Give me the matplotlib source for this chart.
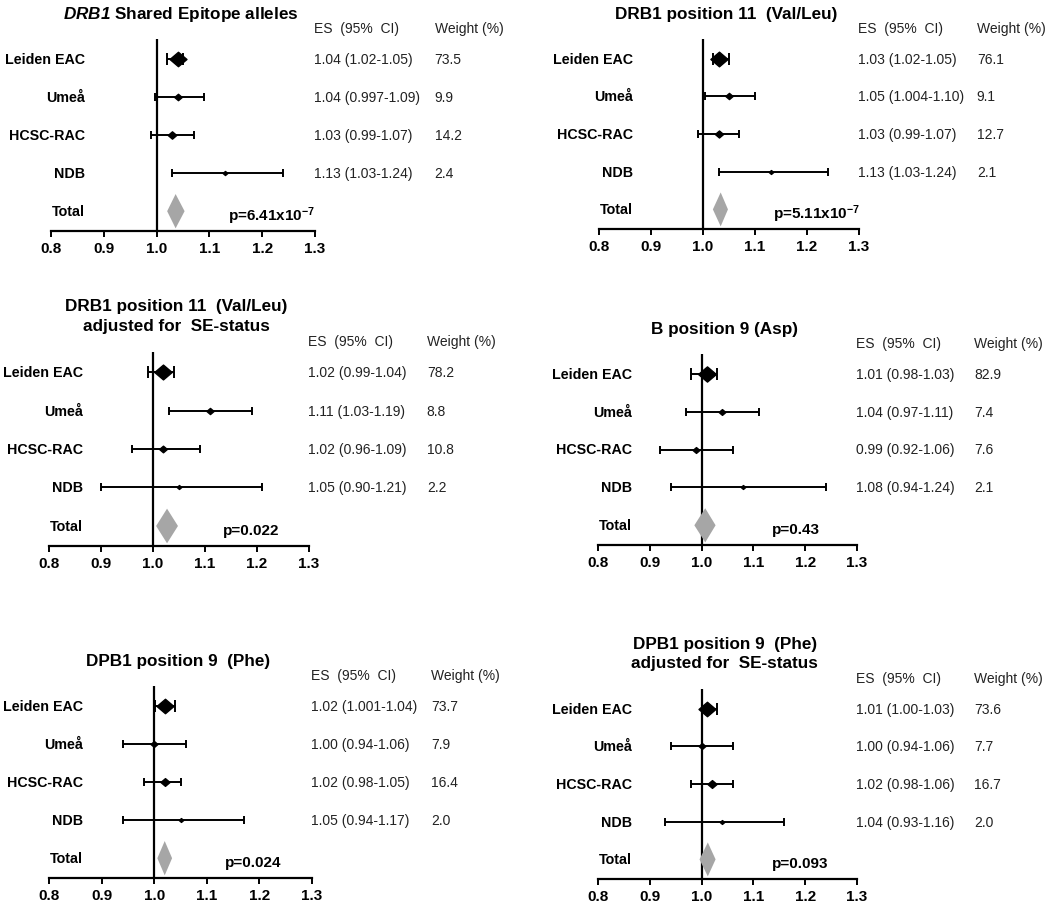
import matplotlib
matplotlib.use("Agg")
import matplotlib.pyplot as plt
from matplotlib.patches import Polygon
from matplotlib.path import Path
import matplotlib.transforms as mtransforms

plt.rcParams['font.family'] = ['Liberation Sans', 'DejaVu Sans']
plt.rcParams['mathtext.fontset'] = 'custom'
plt.rcParams['mathtext.rm'] = 'Liberation Sans'
plt.rcParams['mathtext.it'] = 'Liberation Sans:italic'
plt.rcParams['mathtext.bf'] = 'Liberation Sans:bold'
plt.rcParams['mathtext.bfit'] = 'Liberation Sans:italic:bold'

W, H = 1050, 903

# ---- data ----
studies = ["Leiden EAC", "Umeå", "HCSC-RAC", "NDB"]

titles = [
    r"$\bfit{DRB1}$ Shared Epitope alleles",
    "DRB1 position 11  (Val/Leu)",
    "DRB1 position 11  (Val/Leu)\nadjusted for  SE-status",
    "B position 9 (Asp)",
    "DPB1 position 9  (Phe)",
    "DPB1 position 9  (Phe)\nadjusted for  SE-status",
]

es = [
    [1.04, 1.04, 1.03, 1.13],
    [1.03, 1.05, 1.03, 1.13],
    [1.02, 1.11, 1.02, 1.05],
    [1.01, 1.04, 0.99, 1.08],
    [1.02, 1.00, 1.02, 1.05],
    [1.01, 1.00, 1.02, 1.04],
]
ci_lo = [
    [1.02, 0.997, 0.99, 1.03],
    [1.02, 1.004, 0.99, 1.03],
    [0.99, 1.03, 0.96, 0.90],
    [0.98, 0.97, 0.92, 0.94],
    [1.001, 0.94, 0.98, 0.94],
    [1.00, 0.94, 0.98, 0.93],
]
ci_hi = [
    [1.05, 1.09, 1.07, 1.24],
    [1.05, 1.10, 1.07, 1.24],
    [1.04, 1.19, 1.09, 1.21],
    [1.03, 1.11, 1.06, 1.24],
    [1.04, 1.06, 1.05, 1.17],
    [1.03, 1.06, 1.06, 1.16],
]
weights = [
    [73.5, 9.9, 14.2, 2.4],
    [76.1, 9.1, 12.7, 2.1],
    [78.2, 8.8, 10.8, 2.2],
    [82.9, 7.4, 7.6, 2.1],
    [73.7, 7.9, 16.4, 2.0],
    [73.6, 7.7, 16.7, 2.0],
]
es_text = [
    ["1.04 (1.02-1.05)", "1.04 (0.997-1.09)", "1.03 (0.99-1.07)", "1.13 (1.03-1.24)"],
    ["1.03 (1.02-1.05)", "1.05 (1.004-1.10)", "1.03 (0.99-1.07)", "1.13 (1.03-1.24)"],
    ["1.02 (0.99-1.04)", "1.11 (1.03-1.19)", "1.02 (0.96-1.09)", "1.05 (0.90-1.21)"],
    ["1.01 (0.98-1.03)", "1.04 (0.97-1.11)", "0.99 (0.92-1.06)", "1.08 (0.94-1.24)"],
    ["1.02 (1.001-1.04)", "1.00 (0.94-1.06)", "1.02 (0.98-1.05)", "1.05 (0.94-1.17)"],
    ["1.01 (1.00-1.03)", "1.00 (0.94-1.06)", "1.02 (0.98-1.06)", "1.04 (0.93-1.16)"],
]
# pooled estimate (diamond centre and its ends)
total_es = [1.036, 1.034, 1.027, 1.007, 1.020, 1.012]
total_lo = [1.020, 1.019, 1.006, 0.986, 1.006, 0.996]
total_hi = [1.053, 1.048, 1.048, 1.027, 1.034, 1.027]
p_text = [
    r"p=6.41x10$^{\mathbf{-7}}$",
    r"p=5.11x10$^{\mathbf{-7}}$",
    "p=0.022",
    "p=0.43",
    "p=0.024",
    "p=0.093",
]
xticks = [0.8, 0.9, 1.0, 1.1, 1.2, 1.3]

# panel frames in pixels: x of 0.8, x of 1.3, top of the reference line, x axis
frames = [
    (51, 315, 40, 232),
    (599, 859, 40, 230),
    (49, 309, 353, 547),
    (598, 857, 355, 546),
    (49, 312, 687, 879),
    (598, 857, 690, 880),
]

# slightly flattened diamond marker
diamond = Path([(-1, 0), (0, 0.85), (1, 0), (0, -0.85), (-1, 0)],
               [Path.MOVETO, Path.LINETO, Path.LINETO, Path.LINETO, Path.CLOSEPOLY])

fig = plt.figure(figsize=(W / 100, H / 100), dpi=100)

for k in range(6):
    x0, x1, top, bot = frames[k]
    ax = fig.add_axes([x0 / W, 1 - bot / H, (x1 - x0) / W, (bot - top) / H])
    ax.set_xlim(0.8, 1.3)
    ax.set_ylim(4.52, -0.52)
    for s in ["top", "left", "right"]:
        ax.spines[s].set_visible(False)
    ax.spines["bottom"].set_linewidth(1.6)
    ax.set_yticks([])
    ax.set_xticks(xticks)
    ax.set_xticklabels([f"{t:.1f}" for t in xticks], fontsize=11, fontweight="bold")
    ax.tick_params(axis="x", direction="out", length=4.5, width=1.4, pad=2.5)
    ax.axvline(1.0, color="black", lw=1.6, zorder=1)

    # study rows
    for i in range(4):
        ms = 1.25 * weights[k][i] ** 0.5 + 1.5
        cap = 4.5 if i == 0 else 3
        ax.errorbar(es[k][i], i,
                    xerr=[[es[k][i] - ci_lo[k][i]], [ci_hi[k][i] - es[k][i]]],
                    fmt="none", ecolor="black", elinewidth=1.4,
                    capsize=cap, capthick=1.4, zorder=3)
        ax.plot(es[k][i], i, marker=diamond, color="black", ms=ms,
                linestyle="none", zorder=4)

    # pooled diamond
    h = 0.45
    ax.add_patch(Polygon([(total_lo[k], 4), (total_es[k], 4 - h),
                          (total_hi[k], 4), (total_es[k], 4 + h)],
                         closed=True, facecolor="#a6a6a6", edgecolor="none",
                         zorder=3, clip_on=False))

    trans = mtransforms.blended_transform_factory(ax.transAxes, ax.transData)
    for i, name in enumerate(studies + ["Total"]):
        ax.text(0.13, i, name, transform=trans, ha="right", va="center",
                fontsize=10.3, fontweight="bold", clip_on=False)
    for i in range(4):
        ax.text(0.998, i, es_text[k][i], transform=trans, ha="left", va="center",
                fontsize=10, color="#222222", clip_on=False)
        ax.text(1.453, i, f"{weights[k][i]:.1f}", transform=trans, ha="left",
                va="center", fontsize=10, color="#222222", clip_on=False)
    ax.text(0.998, -0.8, "ES  (95%  CI)", transform=trans, ha="left",
            va="center", fontsize=10, color="#222222", clip_on=False)
    ax.text(1.453, -0.8, "Weight (%)", transform=trans, ha="left",
            va="center", fontsize=10, color="#222222", clip_on=False)

    ax.text(0.67, 4.1, p_text[k], transform=trans, ha="left", va="center",
            fontsize=11, fontweight="bold", clip_on=False)

    nlines = titles[k].count("\n") + 1
    ax.text(0.49, -1.2 - 0.27 * (nlines - 1), titles[k], transform=trans,
            ha="center", va="center", fontsize=12.3, fontweight="bold",
            linespacing=1.35, clip_on=False)

fig.savefig("out.png", dpi=100)
